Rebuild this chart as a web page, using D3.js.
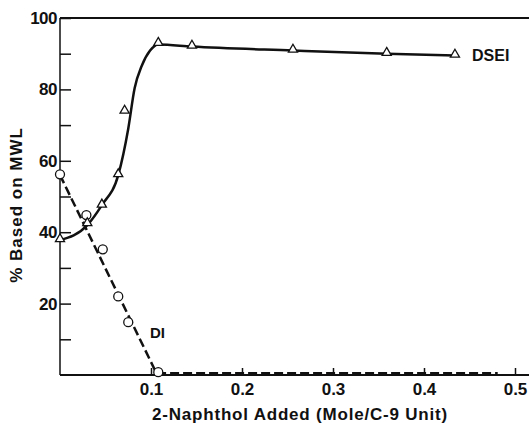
<!DOCTYPE html>
<html><head><meta charset="utf-8">
<script src="https://cdn.jsdelivr.net/npm/d3@7"></script>
<style>
html,body{margin:0;padding:0;background:#fff;}
svg{display:block;}
text{font-family:"Liberation Sans",Arial,sans-serif;fill:#111;}
</style></head>
<body>
<svg id="c" width="529" height="423"></svg>
<script>
// Data
const dseiX = [0, 0.030, 0.046, 0.064, 0.071, 0.108, 0.145, 0.256, 0.359, 0.434];
const dseiY = [37.8, 42.3, 47.5, 56.0, 73.8, 92.8, 92.0, 90.9, 90.0, 89.5];
// smooth curve drawn through the DSEI points
const dseiCurveX = [0, 0.030, 0.046, 0.064, 0.075, 0.082, 0.090, 0.099, 0.108, 0.145, 0.256, 0.359, 0.434];
const dseiCurveY = [37.8, 42.0, 47.6, 56.0, 69.0, 80.3, 86.7, 90.9, 92.6, 92.0, 90.9, 90.0, 89.5];

const diX = [0, 0.029, 0.047, 0.064, 0.075, 0.108];
const diY = [56.2, 44.8, 35.2, 22.0, 14.8, 0.8];
// dashed DI line
const diLineX = [0, 0.106, 0.481];
const diLineY = [56.0, 0.5, 0.5];

const xTicks = [0.1, 0.2, 0.3, 0.4, 0.5];
const yMajor = [20, 40, 60, 80, 100];
const yMinor = [10, 30, 50, 70, 90];

const svg = d3.select("#c");
const x = d3.scaleLinear().domain([0, 0.5]).range([60, 515]);
const y = d3.scaleLinear().domain([0, 100]).range([375, 18]);
const xEnd = 529;
const FONT = "Liberation Sans, Arial, sans-serif";

// frame: top line and axes
svg.append("line").attr("x1", x(0)).attr("x2", xEnd).attr("y1", y(100)).attr("y2", y(100))
  .attr("stroke", "#111").attr("stroke-width", 2);

const gx = svg.append("g").attr("transform", `translate(0,${y(0)})`)
  .call(d3.axisBottom(x).tickValues(xTicks).tickFormat(d3.format(".1f")).tickSize(-7).tickPadding(8));
gx.select(".domain").remove();
gx.append("line").attr("x1", x(0)).attr("x2", xEnd).attr("stroke", "#111").attr("stroke-width", 2);
gx.selectAll(".tick line").attr("stroke", "#111").attr("stroke-width", 1.5);
gx.selectAll(".tick text").attr("font-size", 17).attr("font-weight", "bold").attr("fill", "#111")
  .attr("font-family", FONT);

const gy = svg.append("g").attr("transform", `translate(${x(0)},0)`)
  .call(d3.axisLeft(y).tickValues(yMajor).tickSize(-11).tickPadding(3));
gy.select(".domain").remove();
gy.append("line").attr("y1", y(0)).attr("y2", y(100)).attr("stroke", "#111").attr("stroke-width", 1.5);
gy.selectAll(".tick line").attr("stroke", "#111").attr("stroke-width", 1.5);
gy.selectAll(".tick text").attr("font-size", 17).attr("font-weight", "bold").attr("fill", "#111")
  .attr("font-family", FONT).attr("letter-spacing", -0.5);
const gy2 = svg.append("g").attr("transform", `translate(${x(0)},0)`)
  .call(d3.axisLeft(y).tickValues(yMinor).tickSize(-11).tickFormat(""));
gy2.select(".domain").remove();
gy2.selectAll(".tick line").attr("stroke", "#111").attr("stroke-width", 1.5);

// DI dashed line
const line = d3.line().x(d => x(d[0])).y(d => y(d[1]));
svg.append("path").datum(d3.zip(diLineX, diLineY)).attr("d", line)
  .attr("fill", "none").attr("stroke", "#111").attr("stroke-width", 2.5).attr("stroke-dasharray", "9,4");

// DSEI curve
const curve = d3.line().x(d => x(d[0])).y(d => y(d[1])).curve(d3.curveMonotoneX);
svg.append("path").datum(d3.zip(dseiCurveX, dseiCurveY)).attr("d", curve)
  .attr("fill", "none").attr("stroke", "#111").attr("stroke-width", 2.5);

// markers
svg.selectAll("circle.di").data(d3.zip(diX, diY)).join("circle").attr("class", "di")
  .attr("cx", d => x(d[0])).attr("cy", d => y(d[1])).attr("r", 4.5)
  .attr("fill", "#fff").attr("stroke", "#111").attr("stroke-width", 1.3);
const tri = d3.symbol().type(d3.symbolTriangle).size(36);
svg.selectAll("path.ds").data(d3.zip(dseiX, dseiY)).join("path").attr("class", "ds")
  .attr("d", tri).attr("transform", d => `translate(${x(d[0])},${y(d[1]) - 1})`)
  .attr("fill", "#fff").attr("stroke", "#111").attr("stroke-width", 1.3);

// labels
svg.append("text").attr("x", 472).attr("y", 61).attr("font-size", 16).attr("font-weight", "bold").text("DSEI");
svg.append("text").attr("x", 150).attr("y", 338).attr("font-size", 15).attr("font-weight", "bold").text("DI");

svg.append("text").attr("x", 300).attr("y", 420).attr("text-anchor", "middle")
  .attr("font-size", 17).attr("font-weight", "bold").attr("letter-spacing", 0.8)
  .text("2-Naphthol Added (Mole/C-9 Unit)");
svg.append("text").attr("transform", "translate(22,205) rotate(-90)").attr("text-anchor", "middle")
  .attr("font-size", 17).attr("font-weight", "bold").attr("letter-spacing", 1)
  .text("% Based on MWL");
</script>
</body></html>
